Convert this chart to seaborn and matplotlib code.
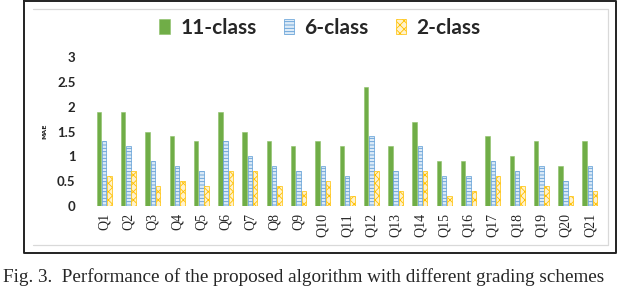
import numpy as np
import pandas as pd
import seaborn as sns
import matplotlib.pyplot as plt
from matplotlib.lines import Line2D

# data
questions = ["Q1", "Q2", "Q3", "Q4", "Q5", "Q6", "Q7", "Q8", "Q9", "Q10", "Q11",
             "Q12", "Q13", "Q14", "Q15", "Q16", "Q17", "Q18", "Q19", "Q20", "Q21"]
mae_11 = [1.9, 1.9, 1.5, 1.4, 1.3, 1.9, 1.5, 1.3, 1.2, 1.3, 1.2,
          2.4, 1.2, 1.7, 0.9, 0.9, 1.4, 1.0, 1.3, 0.8, 1.3]
mae_6 = [1.3, 1.2, 0.9, 0.8, 0.7, 1.3, 1.0, 0.8, 0.7, 0.8, 0.6,
         1.4, 0.7, 1.2, 0.6, 0.6, 0.9, 0.7, 0.8, 0.5, 0.8]
mae_2 = [0.6, 0.7, 0.4, 0.5, 0.4, 0.7, 0.7, 0.4, 0.3, 0.5, 0.2,
         0.7, 0.3, 0.7, 0.2, 0.3, 0.6, 0.4, 0.4, 0.2, 0.3]
schemes = ["11-class", "6-class", "2-class"]
yticks = [0, 0.5, 1, 1.5, 2, 2.5, 3]
ytick_labels = ["0", "0.5", "1", "1.5", "2", "2.5", "3"]
caption = "Fig. 3.  Performance of the proposed algorithm with different grading schemes"

df = pd.DataFrame({
    "question": questions * 3,
    "mae": mae_11 + mae_6 + mae_2,
    "scheme": [schemes[0]] * 21 + [schemes[1]] * 21 + [schemes[2]] * 21,
})

sns.set_style("white")
plt.rcParams["hatch.linewidth"] = 0.6

fig = plt.figure(figsize=(6.4, 2.86), dpi=100)
ax = fig.add_axes([0.1438, 0.2797, 0.797, 0.521])

sns.barplot(data=df, x="question", y="mae", hue="scheme", hue_order=schemes,
            palette=["#70AD47", "#5B9BD5", "#FFC000"], width=0.65, gap=0.15,
            errorbar=None, saturation=1, legend=False, ax=ax)

# patterns for the 6-class and 2-class bars
for bar in ax.containers[0]:
    bar.set_edgecolor("#8CC168")
    bar.set_linewidth(0.4)
for bar in ax.containers[1]:
    bar.set_facecolor("#DDEBF7")
    bar.set_edgecolor("#5B9BD5")
    bar.set_hatch("-----")
    bar.set_linewidth(0.5)
for bar in ax.containers[2]:
    bar.set_facecolor("#FFF2CC")
    bar.set_edgecolor("#FFC000")
    bar.set_hatch("xxxx")
    bar.set_linewidth(0.5)

ax.set_xlim(-0.5, 20.5)
ax.set_ylim(0, 3)
ax.set_yticks(yticks)
ax.set_yticklabels(ytick_labels, fontfamily="Lato", fontweight="bold", fontsize=9.5)
ax.set_xticks(range(len(questions)))
ax.set_xticklabels(questions, rotation=90, fontfamily="Liberation Serif", fontsize=10)
ax.tick_params(axis="both", length=0)
ax.tick_params(axis="y", pad=12)
ax.tick_params(axis="x", pad=5)
sns.despine(ax=ax, left=True, bottom=True)
ax.set_xlabel("")
ax.set_ylabel("MAE", fontsize=4.5, fontweight="bold")
ax.yaxis.set_label_coords(-0.088, 0.5)

fig.legend(ax.containers, schemes, loc="center", bbox_to_anchor=(0.5, 0.902),
           ncol=3, frameon=False, handlelength=0.5, handleheight=0.75,
           handletextpad=0.5, columnspacing=1.3,
           prop=dict(family="Lato", weight="bold", size=15))

# chart frame
fig.add_artist(Line2D([0.0375, 0.9625, 0.9625, 0.0375, 0.0375],
                      [0.9965, 0.9965, 0.1154, 0.1154, 0.9965],
                      color="#222222", lw=1.4))
fig.add_artist(Line2D([0.0516, 0.95, 0.95, 0.0516],
                      [0.9668, 0.9668, 0.1434, 0.1434],
                      color="#D9D9D9", lw=0.9))

fig.text(0.004, 1 - 281.5 / 286, caption, family="Liberation Serif", fontsize=13.8,
         va="baseline", ha="left")

fig.savefig("out.png", dpi=100)
